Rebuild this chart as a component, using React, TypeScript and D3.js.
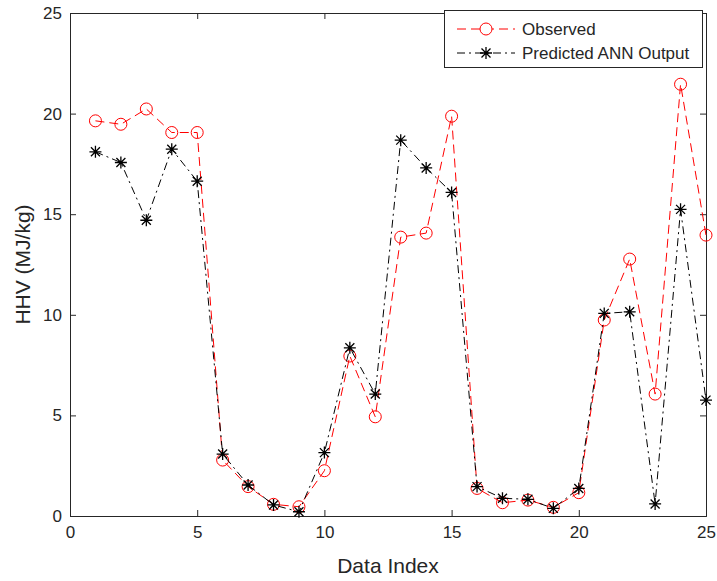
import React, { useRef, useEffect } from 'react';
import * as d3 from 'd3';

const dataIndex = [1, 2, 3, 4, 5, 6, 7, 8, 9, 10, 11, 12, 13, 14, 15, 16, 17, 18, 19, 20, 21, 22, 23, 24, 25];
const observed = [19.64, 19.47, 20.23, 19.06, 19.06, 2.78, 1.46, 0.58, 0.46, 2.25, 7.95, 4.93, 13.86, 14.06, 19.87, 1.37, 0.66, 0.79, 0.43, 1.16, 9.74, 12.77, 6.06, 21.46, 13.96];
const predicted = [18.1, 17.57, 14.7, 18.23, 16.64, 3.08, 1.54, 0.55, 0.21, 3.15, 8.36, 6.06, 18.68, 17.3, 16.08, 1.46, 0.88, 0.83, 0.38, 1.37, 10.07, 10.15, 0.6, 15.24, 5.76];
const xTicks = [0, 5, 10, 15, 20, 25];
const yTicks = [0, 5, 10, 15, 20, 25];
const legendLabels = ['Observed', 'Predicted ANN Output'];

const App = () => {
  const svgRef = useRef<SVGSVGElement>(null);

  useEffect(() => {
    const svg = d3.select(svgRef.current);
    svg.selectAll('*').remove();

    const width = 717;
    const height = 581;
    const margin = { top: 13, right: 11, bottom: 65, left: 70 };
    const font = '"Liberation Sans", Arial, sans-serif';
    const ink = '#262626';

    const x = d3.scaleLinear().domain([0, 25]).range([margin.left, width - margin.right]);
    const y = d3.scaleLinear().domain([0, 25]).range([height - margin.bottom, margin.top]);

    svg.attr('width', width).attr('height', height);
    svg.append('rect').attr('width', width).attr('height', height).attr('fill', '#fff');

    // axes (box on, ticks inward)
    const bottom = svg.append('g')
      .attr('transform', `translate(0, ${y(0)})`)
      .call(d3.axisBottom(x).tickValues(xTicks).tickSize(-6).tickPadding(10).tickFormat(d3.format('d')));
    const left = svg.append('g')
      .attr('transform', `translate(${x(0)}, 0)`)
      .call(d3.axisLeft(y).tickValues(yTicks).tickSize(-6).tickPadding(8).tickFormat(d3.format('d')));
    const top = svg.append('g')
      .attr('transform', `translate(0, ${y(25)})`)
      .call(d3.axisTop(x).tickValues(xTicks).tickSize(-6).tickFormat(() => ''));
    const right = svg.append('g')
      .attr('transform', `translate(${x(25)}, 0)`)
      .call(d3.axisRight(y).tickValues(yTicks).tickSize(-6).tickFormat(() => ''));

    [bottom, left, top, right].forEach((g) => {
      g.select('.domain').attr('stroke', ink).attr('stroke-width', 1);
      g.selectAll('.tick line').attr('stroke', ink);
      g.selectAll('text').attr('fill', ink).style('font-family', font).style('font-size', '17px');
    });

    // x label
    svg.append('text')
      .attr('x', (x(0) + x(25)) / 2)
      .attr('y', 573)
      .attr('text-anchor', 'middle')
      .attr('fill', ink)
      .style('font-family', font)
      .style('font-size', '21px')
      .text('Data Index');

    // y label
    svg.append('text')
      .attr('transform', `translate(30, ${(y(0) + y(25)) / 2}) rotate(-90)`)
      .attr('text-anchor', 'middle')
      .attr('fill', ink)
      .style('font-family', font)
      .style('font-size', '21px')
      .text('HHV (MJ/kg)');

    const line = d3.line<number>()
      .x((d, i) => x(dataIndex[i]))
      .y((d) => y(d));

    // observed series
    svg.append('path')
      .datum(observed)
      .attr('d', line)
      .attr('fill', 'none')
      .attr('stroke', '#ff0000')
      .attr('stroke-width', 1)
      .attr('stroke-dasharray', '9,5');

    svg.selectAll('circle.obs')
      .data(observed)
      .enter()
      .append('circle')
      .attr('class', 'obs')
      .attr('cx', (d, i) => x(dataIndex[i]))
      .attr('cy', (d) => y(d))
      .attr('r', 6)
      .attr('fill', 'none')
      .attr('stroke', '#ff0000')
      .attr('stroke-width', 1);

    // predicted series
    svg.append('path')
      .datum(predicted)
      .attr('d', line)
      .attr('fill', 'none')
      .attr('stroke', '#000')
      .attr('stroke-width', 1)
      .attr('stroke-dasharray', '8,4,2,4');

    const star = (g, cx, cy) => {
      const s = 6;
      const d = s * 0.75;
      const p = `M${cx - s},${cy}L${cx + s},${cy}M${cx},${cy - s}L${cx},${cy + s}` +
        `M${cx - d},${cy - d}L${cx + d},${cy + d}M${cx - d},${cy + d}L${cx + d},${cy - d}`;
      g.append('path').attr('d', p).attr('stroke', '#000').attr('stroke-width', 1.3).attr('fill', 'none');
    };

    const starG = svg.append('g');
    predicted.forEach((d, i) => star(starG, x(dataIndex[i]), y(d)));

    // legend
    const lg = svg.append('g');
    lg.append('rect')
      .attr('x', 444.5)
      .attr('y', 10.5)
      .attr('width', 258)
      .attr('height', 57)
      .attr('fill', '#fff')
      .attr('stroke', ink)
      .attr('stroke-width', 1);

    const rows = [29, 53];
    legendLabels.forEach((label, i) => {
      const ry = rows[i];
      lg.append('line')
        .attr('x1', 457).attr('x2', 515)
        .attr('y1', ry).attr('y2', ry)
        .attr('stroke', i === 0 ? '#ff0000' : '#000')
        .attr('stroke-width', 1)
        .attr('stroke-dasharray', i === 0 ? '9,5' : '8,4,2,4');
      if (i === 0) {
        lg.append('circle').attr('cx', 486).attr('cy', ry).attr('r', 6)
          .attr('fill', '#fff').attr('stroke', '#ff0000');
      } else {
        star(lg, 486, ry);
      }
      lg.append('text')
        .attr('x', 522)
        .attr('y', ry + 6)
        .attr('fill', ink)
        .style('font-family', font)
        .style('font-size', '17px')
        .text(label);
    });
  }, []);

  return <svg ref={svgRef} style={{ position: 'absolute', left: 0, top: 0 }}></svg>;
};

export default App;
